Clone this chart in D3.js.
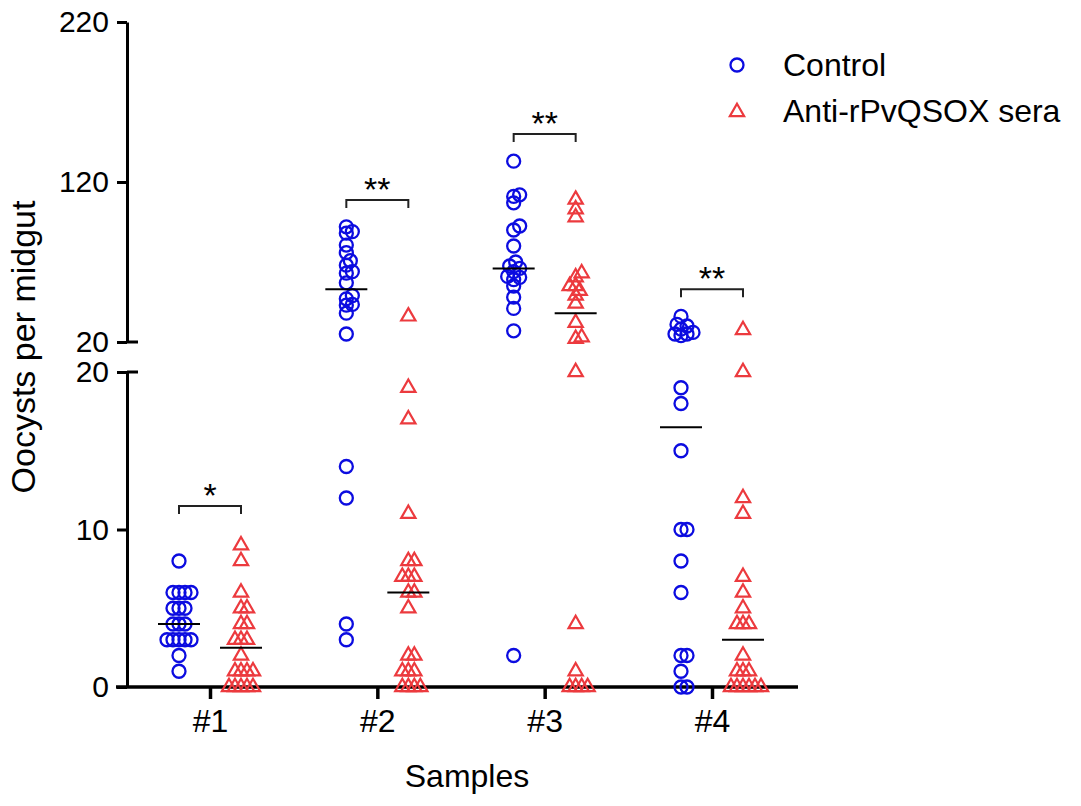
<!DOCTYPE html>
<html>
<head>
<meta charset="utf-8">
<script src="https://cdn.jsdelivr.net/npm/d3@7"></script>
<style>
  body { margin: 0; background: #fff; }
  svg { font-family: "Liberation Sans", Arial, sans-serif; }
</style>
</head>
<body>
<script>
const width = 1081, height = 806;

// data
const groups = ["#1", "#2", "#3", "#4"];
const seriesNames = ["Control", "Anti-rPvQSOX sera"];
const controlValues = [
  [8, 6, 6, 6, 6, 5, 5, 5, 4, 4, 4, 3, 3, 3, 3, 3, 2, 1],
  [92, 89, 88, 80.6, 75.8, 70.8, 68, 64, 63, 57, 49, 47, 43.5, 43, 38, 25, 14, 12, 4, 3],
  [133, 112, 111, 107, 92.5, 90, 80, 70, 67.5, 66, 64, 61, 60.4, 59, 55, 48, 41, 27, 2],
  [36, 31, 30, 28, 26, 25, 25, 24, 19, 18, 15, 10, 10, 8, 6, 2, 2, 1, 0, 0]
];
const antiValues = [
  [9, 8, 6, 5, 5, 4, 4, 3, 3, 3, 2, 1, 1, 1, 1, 0, 0, 0, 0, 0],
  [36, 19, 17, 11, 8, 8, 7, 7, 7, 6, 6, 5, 2, 2, 1, 1, 1, 0, 0, 0, 0],
  [109, 103, 98, 63, 60.5, 55, 55, 52, 49, 44, 32, 23, 22, 20, 4, 1, 0, 0, 0, 0],
  [27.5, 20, 12, 11, 7, 6, 5, 4, 4, 4, 2, 1, 1, 1, 0, 0, 0, 0, 0, 0]
];
const upperTicks = [20, 120, 220];
const lowerTicks = [0, 10, 20];
const sigLabels = ["*", "**", "**", "**"];
const sigLevels = [11.5, 108.75, 150, 53];

const blue = "#0c0ce0", red = "#ec3a3e";

const svg = d3.select("body").append("svg")
  .attr("width", width)
  .attr("height", height);

const x = d3.scalePoint().domain(groups).range([210, 712]);
const yLow = d3.scaleLinear().domain([0, 20]).range([687, 372]);
const yHigh = d3.scaleLinear().domain([20, 220]).range([342, 22]);
const y = v => v <= 20 ? yLow(v) : yHigh(v);
const offset = 31;

// y axis, two segments with a break
const axisX = 127;
const upperAxis = svg.append("g")
  .attr("transform", `translate(${axisX},0)`)
  .call(d3.axisLeft(yHigh).tickValues(upperTicks).tickSize(10).tickSizeOuter(0).tickPadding(8));
const lowerAxis = svg.append("g")
  .attr("transform", `translate(${axisX},0)`)
  .call(d3.axisLeft(yLow).tickValues(lowerTicks).tickSize(10).tickSizeOuter(0).tickPadding(8));

[upperAxis, lowerAxis].forEach(g => {
  g.select(".domain").attr("stroke", "#000").attr("stroke-width", 3);
  g.selectAll(".tick line").attr("stroke", "#000").attr("stroke-width", 3);
  g.selectAll(".tick text").attr("font-size", 30).attr("fill", "#000")
    .attr("font-family", "'Liberation Sans', Arial, sans-serif");
});

// break caps on the right side
svg.selectAll("line.cap")
  .data([yHigh(20), yLow(20)])
  .enter().append("line")
  .attr("x1", axisX).attr("x2", axisX + 11)
  .attr("y1", d => d).attr("y2", d => d)
  .attr("stroke", "#000").attr("stroke-width", 3);

// x axis
svg.append("line")
  .attr("x1", 116).attr("x2", 798)
  .attr("y1", yLow(0)).attr("y2", yLow(0))
  .attr("stroke", "#000").attr("stroke-width", 3.5);
const xAxis = svg.append("g")
  .attr("transform", `translate(0,${yLow(0)})`)
  .call(d3.axisBottom(x).tickSize(12).tickSizeOuter(0).tickPadding(10));
xAxis.select(".domain").remove();
xAxis.selectAll(".tick line").attr("stroke", "#000").attr("stroke-width", 3.5);
xAxis.selectAll(".tick text").attr("font-size", 32).attr("fill", "#000")
  .attr("font-family", "'Liberation Sans', Arial, sans-serif");

// axis titles
svg.append("text")
  .attr("x", 467).attr("y", 787)
  .attr("text-anchor", "middle")
  .attr("font-size", 32)
  .text("Samples");
svg.append("text")
  .attr("transform", "translate(35,347) rotate(-90)")
  .attr("text-anchor", "middle")
  .attr("font-size", 34)
  .text("Oocysts per midgut");

// simple deterministic swarm so equal values spread sideways
function swarm(values, cx) {
  const minD = 6, step = 2;
  const pts = values.map(v => ({ v, py: y(v) })).sort((a, b) => b.py - a.py);
  const placed = [];
  pts.forEach(p => {
    for (let k = 0; k < 80; k++) {
      const px = cx + (k % 2 ? 1 : -1) * Math.ceil(k / 2) * step;
      if (placed.every(q => Math.hypot(q.px - px, q.py - p.py) >= minD)) { p.px = px; break; }
    }
    placed.push(p);
  });
  return placed;
}

const triangle = d3.symbol().type(d3.symbolTriangle).size(88);

groups.forEach((g, i) => {
  const cC = x(g) - offset, cA = x(g) + offset;

  svg.append("g").selectAll("circle")
    .data(swarm(controlValues[i], cC))
    .enter().append("circle")
    .attr("cx", d => d.px).attr("cy", d => d.py)
    .attr("r", 6.5)
    .attr("fill", "none").attr("stroke", blue).attr("stroke-width", 2.3);

  svg.append("g").selectAll("path")
    .data(swarm(antiValues[i], cA))
    .enter().append("path")
    .attr("d", triangle)
    .attr("transform", d => `translate(${d.px},${d.py})`)
    .attr("fill", "none").attr("stroke", red).attr("stroke-width", 2.2);

  // medians
  [[controlValues[i], cC], [antiValues[i], cA]].forEach(([vals, c]) => {
    const m = y(d3.median(vals));
    svg.append("line")
      .attr("x1", c - 21).attr("x2", c + 21)
      .attr("y1", m).attr("y2", m)
      .attr("stroke", "#000").attr("stroke-width", 2);
  });

  // significance bracket
  const by = y(sigLevels[i]);
  svg.append("path")
    .attr("d", `M${cC},${by + 8}V${by}H${cA}V${by + 8}`)
    .attr("fill", "none").attr("stroke", "#222").attr("stroke-width", 2);
  svg.append("text")
    .attr("x", (cC + cA) / 2).attr("y", by + 1)
    .attr("text-anchor", "middle")
    .attr("font-size", 34)
    .text(sigLabels[i]);
});

// legend
const legend = svg.append("g").attr("transform", "translate(737,0)");
legend.append("circle")
  .attr("cx", 0).attr("cy", 65).attr("r", 6.5)
  .attr("fill", "none").attr("stroke", blue).attr("stroke-width", 2.3);
legend.append("path")
  .attr("d", triangle)
  .attr("transform", "translate(0,112)")
  .attr("fill", "none").attr("stroke", red).attr("stroke-width", 2.2);
legend.selectAll("text")
  .data(seriesNames)
  .enter().append("text")
  .attr("x", 46)
  .attr("y", (d, i) => 76 + i * 46)
  .attr("font-size", 32)
  .text(d => d);
</script>
</body>
</html>
